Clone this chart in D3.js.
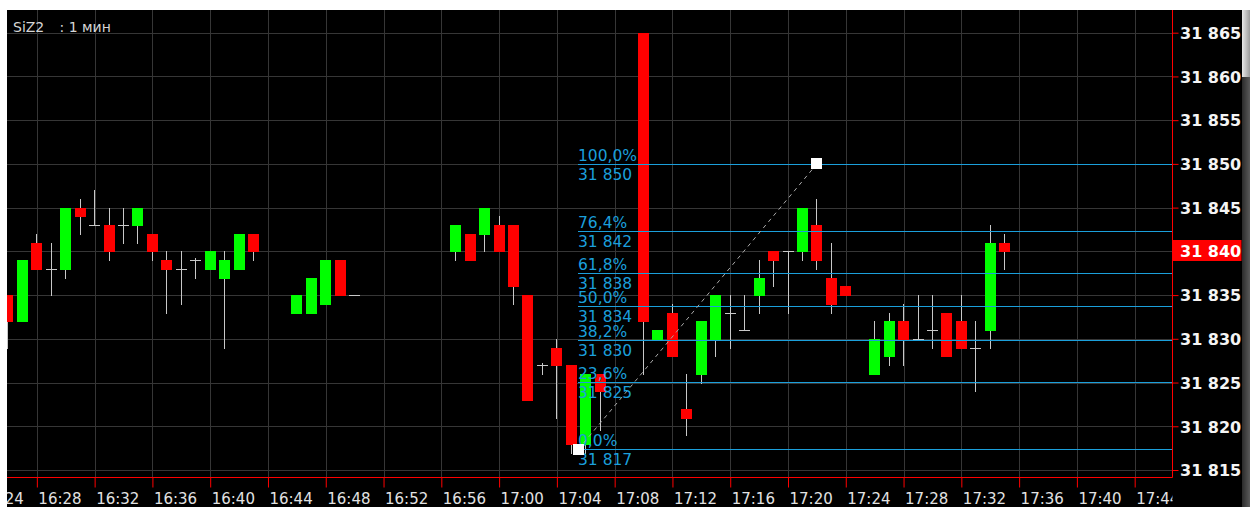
<!DOCTYPE html>
<html>
<head>
<meta charset="utf-8">
<script src="https://cdn.jsdelivr.net/npm/d3@7"></script>
<style>
  html, body { margin: 0; padding: 0; background: #ffffff; }
  svg { display: block; }
</style>
</head>
<body>
<svg id="chart" width="1250" height="507"></svg>
<script>
// SiZ2, 1-minute candles
const candleTimes = [
  "16:26","16:27","16:28","16:29","16:30","16:31","16:32","16:33","16:34","16:35",
  "16:36","16:37","16:38","16:39","16:40","16:41","16:42","16:43",
  "16:46","16:47","16:48","16:49","16:50",
  "16:57","16:58","16:59","17:00","17:01","17:02","17:03","17:04","17:05","17:06","17:07",
  "17:10","17:11","17:12","17:13","17:14","17:15","17:16","17:17","17:18","17:19",
  "17:20","17:21","17:22","17:23","17:24",
  "17:26","17:27","17:28","17:29","17:30","17:31","17:32","17:33","17:34","17:35"
];
const openPrices = [
  31835,31832,31841,31838,31838,31845,31843,31843,31843,31843,
  31842,31839,31838,31839,31838,31837,31838,31842,
  31833,31833,31834,31839,31835,
  31840,31842,31842,31843,31843,31835,31827,31829,31827,31818,31826,
  31865,31830,31833,31822,31826,31830,31833,31831,31835,31840,
  31840,31840,31843,31837,31836,
  31826,31828,31832,31830,31831,31833,31832,31829,31831,31841
];
const highPrices = [
  31835,31839,31842,31841,31845,31846,31847,31845,31845,31845,
  31842,31840,31840,31839.2,31840,31840,31842,31842,
  31835,31837,31839,31839,31835,
  31843,31842,31845,31844,31843,31835,31827.2,31830,31827,31826,31826,
  31865,31831,31834,31826,31832,31835,31835,31835,31839,31840,
  31840,31845,31846,31841,31836,
  31832,31833,31834,31835,31835,31833,31835,31832,31843,31842
];
const lowPrices = [
  31829,31832,31838,31835,31837,31842,31843,31839,31841,31841,
  31839,31833,31834,31837,31838,31829,31838,31839,
  31833,31833,31834,31835,31835,
  31839,31839,31840,31840,31834,31823,31826,31821,31817,31817,31819.6,
  31826,31830,31828,31819,31825,31828,31829,31831,31833,31836,
  31833,31839,31838,31833,31835,
  31826,31827,31827,31830,31829,31828,31829,31824,31829,31838
];
const closePrices = [
  31832,31839,31838,31838,31845,31844,31843,31840,31843,31845,
  31840,31838,31838,31839,31840,31839,31842,31840,
  31835,31837,31839,31835,31835,
  31843,31839,31845,31840,31836,31823,31827,31827,31818,31826,31824,
  31832,31831,31828,31821,31832,31835,31833,31831,31837,31839,
  31840,31845,31839,31834,31835,
  31830,31832,31830,31830,31831,31828,31829,31829,31841,31840
];

// axis ticks
const timeTicks = [
  "16:24","16:28","16:32","16:36","16:40","16:44","16:48","16:52","16:56","17:00",
  "17:04","17:08","17:12","17:16","17:20","17:24","17:28","17:32","17:36","17:40","17:44"
];
const priceTicks = [31815,31820,31825,31830,31835,31840,31845,31850,31855,31860,31865];

// Fibonacci retracement drawn between two anchors
const fibRatios = [0, 0.236, 0.382, 0.5, 0.618, 0.764, 1];
const fibAnchorTimes = ["17:05:30", "17:22:00"];
const fibAnchorPrices = [31817.4, 31850];

const lastPrice = 31840;
const symbolName = "SiZ2";
const periodName = ": 1 мин";

// visible window
const viewStart = "16:25:56";
const viewEnd = "17:46:35";

// ---------------------------------------------------------------
const W = 1250, H = 507;
const plot = { left: 7, top: 10, right: 1172.5, bottom: 477.5 };

const colors = {
  bg: "#000000",
  grid: "#363636",
  axis: "#ff0000",
  up: "#00ff00",
  down: "#ff0000",
  wick: "#c8c8c8",
  fib: "#1b9fdb",
  fibDiag: "#a8a8a8",
  text: "#e6e6e6"
};

const parseTime = d3.timeParse("%H:%M:%S");
const toTime = s => parseTime(s.length === 5 ? s + ":00" : s);

const x = d3.scaleTime()
  .domain([toTime(viewStart), toTime(viewEnd)])
  .range([plot.left, plot.right - 0.5]);

const y = d3.scaleLinear()
  .domain([31815, 31865])
  .range([470, 32.7]);

const ruLocale = d3.formatLocale({ decimal: ",", thousands: " ", grouping: [3], currency: ["", ""] });
const priceFmt = ruLocale.format(",d");
const pctFmt = ruLocale.format(".1f");
const timeFmt = d3.timeFormat("%H:%M");

const candles = candleTimes.map((tm, i) => ({
  t: toTime(tm), o: openPrices[i], h: highPrices[i], l: lowPrices[i], c: closePrices[i]
}));

const svg = d3.select("#chart");

// white frame around the chart window
svg.append("rect").attr("width", W).attr("height", H).attr("fill", "#ffffff");
svg.append("rect")
  .attr("x", plot.left).attr("y", plot.top)
  .attr("width", 1242 - plot.left).attr("height", H - plot.top)
  .attr("fill", colors.bg);

const defs = svg.append("defs");
defs.append("clipPath").attr("id", "plotClip")
  .append("rect")
  .attr("x", plot.left).attr("y", plot.top)
  .attr("width", plot.right - plot.left).attr("height", plot.bottom - plot.top);
defs.append("clipPath").attr("id", "timeLabelClip")
  .append("rect")
  .attr("x", plot.left).attr("y", plot.bottom)
  .attr("width", plot.right - plot.left).attr("height", H - plot.bottom);

const thumbGrad = defs.append("linearGradient").attr("id", "thumbGrad")
  .attr("x1", 0).attr("x2", 1).attr("y1", 0).attr("y2", 0);
thumbGrad.append("stop").attr("offset", 0).attr("stop-color", "#e8e8e8");
thumbGrad.append("stop").attr("offset", 1).attr("stop-color", "#9a9a9a");
const trackGrad = defs.append("linearGradient").attr("id", "trackGrad")
  .attr("x1", 0).attr("x2", 1).attr("y1", 0).attr("y2", 0);
trackGrad.append("stop").attr("offset", 0).attr("stop-color", "#2a2a2a");
trackGrad.append("stop").attr("offset", 1).attr("stop-color", "#5a5a5a");

const crisp = v => Math.round(v) + 0.5;

// grid
const grid = svg.append("g").attr("clip-path", "url(#plotClip)");
grid.selectAll("line.hg").data(priceTicks).join("line")
  .attr("x1", plot.left).attr("x2", plot.right)
  .attr("y1", d => crisp(y(d))).attr("y2", d => crisp(y(d)))
  .attr("stroke", colors.grid).attr("stroke-width", 1);
grid.selectAll("line.vg").data(timeTicks.map(toTime)).join("line")
  .attr("x1", d => crisp(x(d))).attr("x2", d => crisp(x(d)))
  .attr("y1", plot.top).attr("y2", plot.bottom)
  .attr("stroke", colors.grid).attr("stroke-width", 1);

// candles
const minuteStep = x(d3.timeMinute.offset(candles[0].t, 1)) - x(candles[0].t);
const bodyW = Math.round(minuteStep * 0.76);
const layer = svg.append("g").attr("clip-path", "url(#plotClip)");

candles.forEach(d => {
  const bx = Math.round(x(d.t) - bodyW / 2);
  const cx = bx + Math.floor(bodyW / 2) + 0.5;
  layer.append("line")
    .attr("x1", cx).attr("x2", cx)
    .attr("y1", Math.round(y(d.h))).attr("y2", Math.round(y(d.l)) + 1)
    .attr("stroke", colors.wick).attr("stroke-width", 1);
  if (d.o === d.c) {
    layer.append("line")
      .attr("x1", bx).attr("x2", bx + bodyW)
      .attr("y1", crisp(y(d.o))).attr("y2", crisp(y(d.o)))
      .attr("stroke", colors.wick).attr("stroke-width", 1);
  } else {
    const top = Math.round(y(Math.max(d.o, d.c)));
    const bot = Math.round(y(Math.min(d.o, d.c)));
    layer.append("rect")
      .attr("x", bx).attr("y", top)
      .attr("width", bodyW).attr("height", Math.max(1, bot - top + 1))
      .attr("fill", d.c > d.o ? colors.up : colors.down);
  }
});

// Fibonacci retracement
const fibLow = fibAnchorPrices[0], fibHigh = fibAnchorPrices[1];
const fibX0 = x(toTime(fibAnchorTimes[0]));
const fibX1 = x(toTime(fibAnchorTimes[1]));
const fibLevels = fibRatios.map(r => ({ r, v: fibLow + r * (fibHigh - fibLow) }));
const fib = svg.append("g").attr("clip-path", "url(#plotClip)");

fib.selectAll("line.fl").data(fibLevels).join("line")
  .attr("x1", Math.round(fibX0) - 1).attr("x2", plot.right)
  .attr("y1", d => crisp(y(d.v))).attr("y2", d => crisp(y(d.v)))
  .attr("stroke", colors.fib).attr("stroke-width", 1.2);

fib.append("line")
  .attr("x1", fibX0).attr("y1", y(fibLow))
  .attr("x2", fibX1).attr("y2", y(fibHigh))
  .attr("stroke", colors.fibDiag).attr("stroke-width", 1)
  .attr("stroke-dasharray", "4,4");

const fibText = fib.append("g")
  .attr("font-family", "'DejaVu Sans', Verdana, sans-serif")
  .attr("font-size", "15.5px")
  .attr("fill", colors.fib);
fibText.selectAll("text.pct").data(fibLevels).join("text")
  .attr("x", Math.round(fibX0) - 1)
  .attr("y", d => Math.round(y(d.v)) - 3)
  .text(d => pctFmt(d.r * 100) + "%");
fibText.selectAll("text.val").data(fibLevels).join("text")
  .attr("x", Math.round(fibX0) - 1)
  .attr("y", d => Math.round(y(d.v)) + 16)
  .text(d => priceFmt(Math.round(d.v)));

fib.selectAll("rect.anchor").data([[fibX0, fibLow], [fibX1, fibHigh]]).join("rect")
  .attr("x", d => Math.round(d[0] - 5.5)).attr("y", d => Math.round(y(d[1]) - 5.5))
  .attr("width", 11).attr("height", 11)
  .attr("fill", "#ffffff");

// right price axis
const yAxis = d3.axisRight(y).tickValues(priceTicks).tickSize(6).tickFormat(priceFmt);
const ya = svg.append("g").attr("transform", `translate(${plot.right},0)`).call(yAxis);
ya.select(".domain").remove();
ya.selectAll(".tick line").attr("stroke", colors.axis);
ya.selectAll(".tick text")
  .attr("x", 7.5).attr("dy", "0.36em")
  .attr("fill", "#f4f4f4")
  .attr("font-family", "'DejaVu Sans', Verdana, sans-serif")
  .attr("font-weight", "bold")
  .attr("font-size", "16px");

// bottom time axis
const xAxis = d3.axisBottom(x).tickValues(timeTicks.map(toTime)).tickSize(10).tickFormat(timeFmt);
const xa = svg.append("g").attr("transform", `translate(0,${plot.bottom})`).call(xAxis);
xa.select(".domain").remove();
xa.selectAll(".tick line").attr("stroke", colors.axis).attr("clip-path", null);
xa.selectAll(".tick text")
  .attr("text-anchor", "start")
  .attr("x", 1).attr("y", 26).attr("dy", 0)
  .attr("fill", "#e2e2e2")
  .attr("font-family", "'DejaVu Sans', Verdana, sans-serif")
  .attr("font-size", "15px");
xa.attr("clip-path", null);
// keep the time labels inside the plot width
const labelClipG = svg.append("g").attr("clip-path", "url(#timeLabelClip)");
labelClipG.node().appendChild(xa.node());
xa.attr("transform", `translate(0,${plot.bottom})`);

// axis frame lines
svg.append("line")
  .attr("x1", plot.left).attr("x2", plot.right)
  .attr("y1", plot.bottom).attr("y2", plot.bottom)
  .attr("stroke", colors.axis).attr("stroke-width", 1);
svg.append("line")
  .attr("x1", plot.right).attr("x2", plot.right)
  .attr("y1", plot.top).attr("y2", plot.bottom)
  .attr("stroke", colors.axis).attr("stroke-width", 1);

// last price marker
const lp = svg.append("g");
lp.append("rect")
  .attr("x", plot.right + 0.5).attr("y", Math.round(y(lastPrice)) - 11)
  .attr("width", 1241 - plot.right).attr("height", 21)
  .attr("fill", "#ff0000");
lp.append("text")
  .attr("x", plot.right + 7.5).attr("y", y(lastPrice)).attr("dy", "0.36em")
  .attr("fill", "#ffffff")
  .attr("font-family", "'DejaVu Sans', Verdana, sans-serif")
  .attr("font-weight", "bold")
  .attr("font-size", "16px")
  .text(priceFmt(lastPrice));

// symbol title
const title = svg.append("text")
  .attr("y", 32)
  .attr("fill", "#d6d6d6")
  .attr("font-family", "'DejaVu Sans', Verdana, sans-serif")
  .attr("font-size", "14px");
title.append("tspan").attr("x", 13).text(symbolName);
title.append("tspan").attr("x", 59.5).text(periodName);

// vertical scrollbar at the right edge
svg.append("rect").attr("x", 1242).attr("y", plot.top).attr("width", 8).attr("height", H - plot.top)
  .attr("fill", "url(#trackGrad)");
svg.append("rect").attr("x", 1242).attr("y", plot.top).attr("width", 8).attr("height", 67)
  .attr("fill", "url(#thumbGrad)");
</script>
</body>
</html>
